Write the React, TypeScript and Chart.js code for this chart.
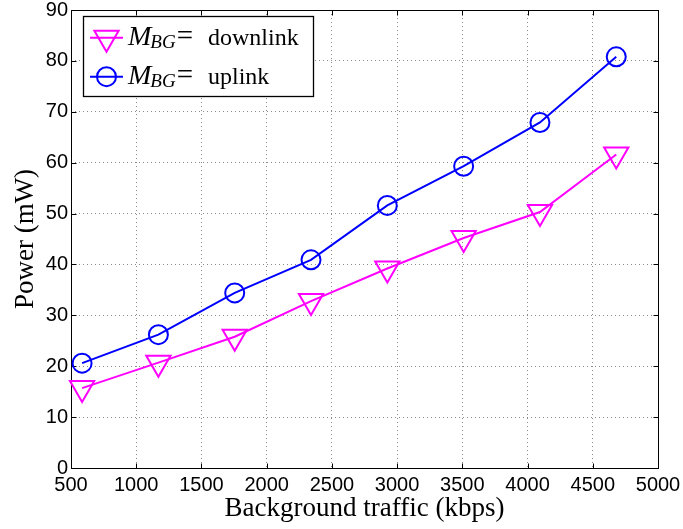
import React, { useEffect, useRef } from "react";
import { Chart, registerables } from "chart.js";

Chart.register(...registerables);

// ---- data ----
const trafficKbps = [585, 1170, 1755, 2340, 2925, 3510, 4095, 4680];
const downlinkPower = [15.7, 20.7, 25.8, 32.8, 39.2, 45.2, 50.3, 61.6];
const uplinkPower = [20.6, 26.2, 34.4, 40.9, 51.6, 59.3, 67.9, 80.8];
const seriesLabels = ["downlink", "uplink"];
const seriesColors = ["#ff00ff", "#0000ff"];
const seriesMarkers = ["triangleDown", "circle"];
const xRange = [500, 5000];
const xStep = 500;
const yRange = [0, 90];
const yStep = 10;
const xTitle = "Background traffic (kbps)";
const yTitle = "Power (mW)";
const legendPrefix = "M";
const legendSub = "BG";

const TICK_FONT = '"Liberation Sans", Arial, sans-serif';
const SERIF = '"Liberation Serif", "Times New Roman", serif';

function drawMarker(ctx: CanvasRenderingContext2D, kind: string, x: number, y: number) {
  ctx.beginPath();
  if (kind === "circle") {
    ctx.arc(x, y, 9.5, 0, Math.PI * 2);
  } else {
    const r = 14;
    for (let i = 0; i < 3; i++) {
      const a = Math.PI + (i * 2 * Math.PI) / 3;
      const px = x + Math.sin(a) * r;
      const py = y - Math.cos(a) * r;
      if (i === 0) ctx.moveTo(px, py);
      else ctx.lineTo(px, py);
    }
    ctx.closePath();
  }
  ctx.stroke();
}

const framePlugin = {
  id: "matlabFrame",
  beforeDatasetsDraw(chart: any) {
    const { ctx, chartArea } = chart;
    const xs = chart.scales.x;
    const ys = chart.scales.y;
    const L = Math.round(chartArea.left) + 0.5;
    const R = Math.round(chartArea.right) + 0.5;
    const T = Math.round(chartArea.top) + 0.5;
    const B = Math.round(chartArea.bottom) + 0.5;
    ctx.save();
    ctx.strokeStyle = "#000";
    ctx.lineWidth = 1;
    ctx.setLineDash([]);
    ctx.beginPath();
    for (const t of xs.ticks) {
      const px = Math.round(xs.getPixelForValue(t.value)) + 0.5;
      ctx.moveTo(px, B);
      ctx.lineTo(px, B - 5);
      ctx.moveTo(px, T);
      ctx.lineTo(px, T + 5);
    }
    for (const t of ys.ticks) {
      const py = Math.round(ys.getPixelForValue(t.value)) + 0.5;
      ctx.moveTo(L, py);
      ctx.lineTo(L + 5, py);
      ctx.moveTo(R, py);
      ctx.lineTo(R - 5, py);
    }
    ctx.stroke();
    ctx.strokeRect(L, T, R - L, B - T);
    ctx.restore();
  },
};

const legendPlugin = {
  id: "mathLegend",
  afterDraw(chart: any) {
    const ctx: CanvasRenderingContext2D = chart.ctx;
    ctx.save();
    ctx.setLineDash([]);
    ctx.fillStyle = "#fff";
    ctx.fillRect(83.5, 16.5, 230, 80);
    ctx.strokeStyle = "#000";
    ctx.lineWidth = 1.3;
    ctx.strokeRect(83.5, 16.5, 230, 80);
    const rowsY = [37.7, 76.7];
    seriesLabels.forEach((label, i) => {
      const cy = rowsY[i];
      ctx.strokeStyle = seriesColors[i];
      ctx.lineWidth = 2;
      ctx.beginPath();
      ctx.moveTo(90, cy);
      ctx.lineTo(123, cy);
      ctx.stroke();
      drawMarker(ctx, seriesMarkers[i], 106.5, cy);
      const base = cy + 6.8;
      ctx.fillStyle = "#000";
      ctx.textAlign = "left";
      ctx.textBaseline = "alphabetic";
      let x = 128;
      ctx.font = `italic 28px ${SERIF}`;
      ctx.fillText(legendPrefix, x, base);
      x += ctx.measureText(legendPrefix).width - 1;
      ctx.font = `italic 19px ${SERIF}`;
      ctx.fillText(legendSub, x, base + 3.6);
      x += ctx.measureText(legendSub).width + 1;
      ctx.font = `29px ${SERIF}`;
      ctx.fillText("=", x, base);
      x += ctx.measureText("=").width;
      ctx.font = `24px ${SERIF}`;
      ctx.fillText(label, Math.max(x + 9, 208), base);
    });
    ctx.restore();
  },
};

export default function App() {
  const ref = useRef<HTMLCanvasElement | null>(null);
  useEffect(() => {
    if (!ref.current) return;
    const mk = (data: number[]) => data.map((v, i) => ({ x: trafficKbps[i], y: v }));
    const chart = new Chart(ref.current, {
      type: "line",
      data: {
        datasets: [
          {
            label: seriesLabels[0],
            data: mk(downlinkPower),
            borderColor: seriesColors[0],
            backgroundColor: "rgba(0,0,0,0)",
            borderWidth: 2,
            pointStyle: "triangle",
            pointRotation: 180,
            pointRadius: 14,
            pointBorderWidth: 2,
            pointBorderColor: seriesColors[0],
            pointBackgroundColor: "rgba(0,0,0,0)",
            tension: 0,
            clip: false,
          },
          {
            label: seriesLabels[1],
            data: mk(uplinkPower),
            borderColor: seriesColors[1],
            backgroundColor: "rgba(0,0,0,0)",
            borderWidth: 2,
            pointStyle: "circle",
            pointRadius: 9.5,
            pointBorderWidth: 2,
            pointBorderColor: seriesColors[1],
            pointBackgroundColor: "rgba(0,0,0,0)",
            tension: 0,
            clip: false,
          },
        ],
      },
      options: {
        responsive: false,
        animation: false,
        devicePixelRatio: 1,
        layout: { autoPadding: false, padding: { top: 10, right: 25, left: 0, bottom: 0 } },
        plugins: { legend: { display: false }, tooltip: { enabled: false } },
        scales: {
          x: {
            type: "linear",
            min: xRange[0],
            max: xRange[1],
            afterFit: (s: any) => {
              s.height = 61;
              s.paddingLeft = 0;
              s.paddingRight = 0;
            },
            ticks: {
              stepSize: xStep,
              color: "#000",
              font: { family: TICK_FONT, size: 20 },
              padding: 5,
              maxRotation: 0,
              autoSkip: false,
              callback: (v: any) => String(v),
            },
            grid: { color: "#8a8a8a", lineWidth: 1, drawTicks: false },
            border: { display: false, dash: [1, 3] },
            title: {
              display: true,
              text: xTitle,
              color: "#000",
              font: { family: SERIF, size: 27 },
              padding: { top: 0, bottom: 4 },
            },
          },
          y: {
            type: "linear",
            min: yRange[0],
            max: yRange[1],
            afterFit: (s: any) => {
              s.width = 71;
              s.paddingTop = 0;
              s.paddingBottom = 0;
            },
            ticks: {
              stepSize: yStep,
              color: "#000",
              font: { family: TICK_FONT, size: 20 },
              padding: 3,
              autoSkip: false,
              callback: (v: any) => String(v),
            },
            grid: { color: "#8a8a8a", lineWidth: 1, drawTicks: false },
            border: { display: false, dash: [1, 3] },
            title: {
              display: true,
              text: yTitle,
              color: "#000",
              font: { family: SERIF, size: 27 },
              padding: { top: 10, bottom: 0 },
            },
          },
        },
      },
      plugins: [framePlugin, legendPlugin],
    } as any);
    return () => chart.destroy();
  }, []);
  return (
    <div style={{ position: "fixed", left: 0, top: 0, width: 683, height: 529, background: "#fff" }}>
      <canvas ref={ref} width={683} height={529} style={{ display: "block" }} />
    </div>
  );
}
